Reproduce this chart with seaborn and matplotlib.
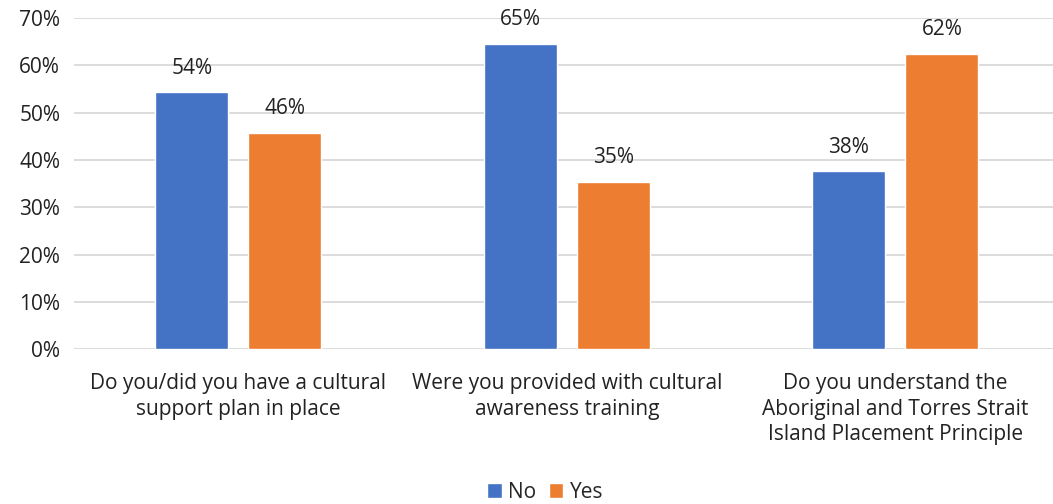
import matplotlib
matplotlib.use("Agg")
import matplotlib.pyplot as plt
import seaborn as sns
import pandas as pd
from matplotlib.ticker import PercentFormatter

# ========== Data ========== #
questions = [
    "Do you/did you have a cultural\nsupport plan in place",
    "Were you provided with cultural\nawareness training",
    "Do you understand the\nAboriginal and Torres Strait\nIsland Placement Principle",
]
no_values = [54.3, 64.6, 37.6]
yes_values = [45.7, 35.4, 62.4]
answers = ["No", "Yes"]
colors = ["#4472C4", "#ED7D31"]

df = pd.DataFrame({
    "Question": questions * 2,
    "Answer": ["No"] * 3 + ["Yes"] * 3,
    "Percent": no_values + yes_values,
})

sns.set_style("white")
plt.rcParams["font.family"] = ["Open Sans", "DejaVu Sans"]
fs = 15

fig = plt.figure(figsize=(10.53, 5.04), dpi=100)
# plot area runs a little past the right edge, like the original
ax = fig.add_axes([0.0703, 0.307, 0.936, 0.657])

sns.barplot(data=df, x="Question", y="Percent", hue="Answer",
            hue_order=answers, palette=colors, width=0.566, gap=0.215,
            saturation=1, errorbar=None, ax=ax)

# value labels
for container in ax.containers:
    ax.bar_label(container, labels=[f"{v:.0f}%" for v in container.datavalues],
                 padding=10, fontsize=fs, color="#222222")

ax.set_ylim(0, 70)
ax.set_yticks(range(0, 71, 10))
ax.yaxis.set_major_formatter(PercentFormatter(decimals=0))
ax.grid(axis="y", color="#d9d9d9", linewidth=1.3)
ax.set_axisbelow(True)
for s in ax.spines.values():
    s.set_visible(False)
ax.tick_params(axis="both", length=0, labelsize=fs, colors="#222222")
ax.tick_params(axis="x", pad=17)
ax.tick_params(axis="y", pad=10)
for lbl in ax.get_xticklabels():
    lbl.set_linespacing(1.3)
ax.set_xlabel("")
ax.set_ylabel("")

ax.legend(loc="lower center", bbox_to_anchor=(0.478, -0.52), ncol=2,
          frameon=False, fontsize=fs, handlelength=0.7, handleheight=0.7,
          handletextpad=0.3, columnspacing=0.6)

fig.savefig("out.png", dpi=100)
